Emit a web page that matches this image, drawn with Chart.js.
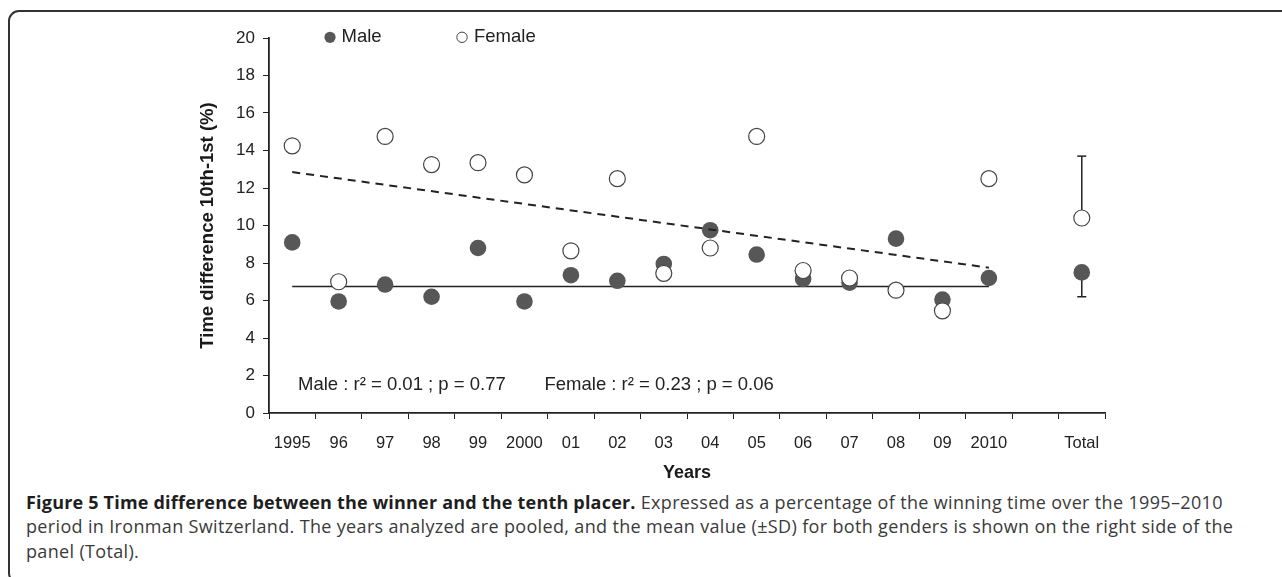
<!DOCTYPE html>
<html>
<head>
<meta charset="utf-8">
<script src="https://cdn.jsdelivr.net/npm/chart.js@4"></script>
<style>
  html, body { margin: 0; padding: 0; background: #fff; }
  body { width: 1282px; height: 577px; position: relative; overflow: hidden; }
  #frame {
    position: absolute; left: 8px; top: 10px; width: 1300px; height: 574px;
    border: 2px solid #333; border-radius: 11px; box-sizing: border-box;
  }
  #wrap { position: absolute; left: 186px; top: 18px; width: 960px; height: 470px; }
  #caption {
    position: absolute; left: 26px; top: 490px;
    font-family: "Open Sans", sans-serif; font-size: 18px; line-height: 24.3px;
    letter-spacing: 0.34px; color: #3a3a3a; white-space: nowrap;
  }
  #caption b { color: #1e1e1e; font-weight: 700; letter-spacing: 0.2px; }
</style>
</head>
<body>
<div id="frame"></div>
<div id="wrap"><canvas id="chart"></canvas></div>
<div id="caption"><b>Figure 5 Time difference between the winner and the tenth placer.</b> Expressed as a percentage of the winning time over the 1995–2010<br>period in Ironman Switzerland. The years analyzed are pooled, and the mean value (±SD) for both genders is shown on the right side of the<br>panel (Total).</div>
<script>
// categories (one empty slot before the pooled "Total")
const labels = ['1995', '96', '97', '98', '99', '2000', '01', '02', '03', '04', '05', '06', '07', '08', '09', '2010', '', 'Total'];

// time difference 10th - 1st (%) per year
const maleYears = [9.1, 5.95, 6.85, 6.2, 8.8, 5.95, 7.35, 7.05, 7.95, 9.75, 8.45, 7.15, 6.95, 9.3, 6.05, 7.2];
const femaleYears = [14.25, 7.0, 14.75, 13.25, 13.35, 12.7, 8.65, 12.5, 7.45, 8.8, 14.75, 7.6, 7.2, 6.55, 5.45, 12.5];

// pooled mean and SD: [male, female]
const totalMean = [7.5, 10.4];
const totalSD = [1.3, 3.3];

// regression line ends (1995, 2010): male flat, female declining
const maleTrend = [6.75, 6.75];
const femaleTrend = [12.85, 7.75];

const yTicks = [0, 2, 4, 6, 8, 10, 12, 14, 16, 18, 20];

const stats = ['Male : r² = 0.01 ; p = 0.77', 'Female : r² = 0.23 ; p = 0.06'];

const FONT = "'Liberation Sans', Arial, sans-serif";
const FILL = '#575757';

function trendData(ends) {
    let d = labels.map(() => null);
    d[0] = ends[0];
    d[15] = ends[1];
    return d;
}

const maleData = maleYears.concat([null, totalMean[0]]);
const femaleData = femaleYears.concat([null, totalMean[1]]);

const maleErr = [{x: 'Total', y: totalMean[0]}, {x: 'Total', y: totalMean[0] - totalSD[0]}];
const femaleErr = [{x: 'Total', y: totalMean[1]}, {x: 'Total', y: totalMean[1] + totalSD[1]}];

// legend + r²/p text inside the plot
const overlay = {
    id: 'overlay',
    afterDraw(chart) {
        const ctx = chart.ctx;
        const left = chart.chartArea.left;
        const y = chart.scales.y;
        const ly = y.getPixelForValue(20) - 0.7;
        ctx.save();
        ctx.font = '18.5px ' + FONT;
        ctx.textBaseline = 'middle';
        ctx.fillStyle = '#222';

        ctx.beginPath();
        ctx.arc(left + 61, ly, 5.6, 0, Math.PI * 2);
        ctx.fillStyle = FILL;
        ctx.fill();
        ctx.fillStyle = '#222';
        ctx.fillText('Male', left + 72.5, ly);

        ctx.beginPath();
        ctx.arc(left + 193, ly, 5.2, 0, Math.PI * 2);
        ctx.strokeStyle = '#444';
        ctx.lineWidth = 1;
        ctx.stroke();
        ctx.fillText('Female', left + 205, ly);

        const sy = y.getPixelForValue(1.5);
        ctx.fillText(stats[0], left + 29, sy);
        ctx.fillText(stats[1], left + 275.5, sy);
        ctx.restore();
    }
};

new Chart(document.getElementById('chart'), {
    type: 'line',
    data: {
        labels: labels,
        datasets: [
            {
                label: 'Female',
                data: femaleData,
                showLine: false,
                pointRadius: 8,
                pointBackgroundColor: '#fff',
                pointBorderColor: '#444',
                pointBorderWidth: 1.2,
                order: 1
            },
            {
                label: 'Female trend',
                data: trendData(femaleTrend),
                spanGaps: true,
                borderColor: '#222',
                borderWidth: 2,
                borderDash: [8, 6],
                pointRadius: 0,
                order: 2
            },
            {
                label: 'Male',
                data: maleData,
                showLine: false,
                pointRadius: 8.3,
                pointBackgroundColor: FILL,
                pointBorderColor: FILL,
                pointBorderWidth: 0,
                order: 3
            },
            {
                label: 'Male trend',
                data: trendData(maleTrend),
                spanGaps: true,
                borderColor: '#222',
                borderWidth: 1.6,
                pointRadius: 0,
                order: 4
            },
            {
                label: 'Male SD',
                data: maleErr,
                borderColor: '#222',
                borderWidth: 1.5,
                pointStyle: 'line',
                pointRadius: [0, 4.5],
                pointBorderColor: '#222',
                pointBorderWidth: 1.5,
                order: 5
            },
            {
                label: 'Female SD',
                data: femaleErr,
                borderColor: '#222',
                borderWidth: 1.5,
                pointStyle: 'line',
                pointRadius: [0, 4.5],
                pointBorderColor: '#222',
                pointBorderWidth: 1.5,
                order: 5
            }
        ]
    },
    options: {
        responsive: true,
        maintainAspectRatio: false,
        animation: false,
        events: [],
        layout: { padding: { left: 0, top: 20, right: 41, bottom: 0 } },
        plugins: {
            legend: { display: false },
            tooltip: { enabled: false }
        },
        scales: {
            x: {
                type: 'category',
                offset: true,
                afterFit: s => { s.height = 75; },
                grid: {
                    offset: true,
                    drawOnChartArea: false,
                    drawTicks: true,
                    tickLength: 6,
                    tickColor: '#222',
                    lineWidth: 1
                },
                border: { display: true, color: '#222', width: 1.8 },
                ticks: {
                    color: '#222',
                    padding: 15,
                    maxRotation: 0,
                    autoSkip: false,
                    font: { family: FONT, size: 16.5 }
                },
                title: {
                    display: true,
                    text: 'Years',
                    color: '#1a1a1a',
                    padding: { top: 0, bottom: 4 },
                    font: { family: FONT, size: 18, weight: 'bold' }
                }
            },
            y: {
                min: 0,
                max: 20,
                afterFit: s => { s.width = 83; },
                afterBuildTicks: s => { s.ticks = yTicks.map(v => ({value: v})); },
                grid: {
                    drawOnChartArea: false,
                    drawTicks: true,
                    tickLength: 6,
                    tickColor: '#222',
                    lineWidth: 1
                },
                border: { display: true, color: '#222', width: 1.8 },
                ticks: {
                    color: '#222',
                    padding: 8,
                    font: { family: FONT, size: 17 }
                },
                title: {
                    display: true,
                    text: 'Time difference 10th-1st (%)',
                    color: '#1a1a1a',
                    padding: { top: 11, bottom: 0 },
                    font: { family: FONT, size: 18.5, weight: 'bold' }
                }
            }
        }
    },
    plugins: [overlay]
});
</script>
</body>
</html>
